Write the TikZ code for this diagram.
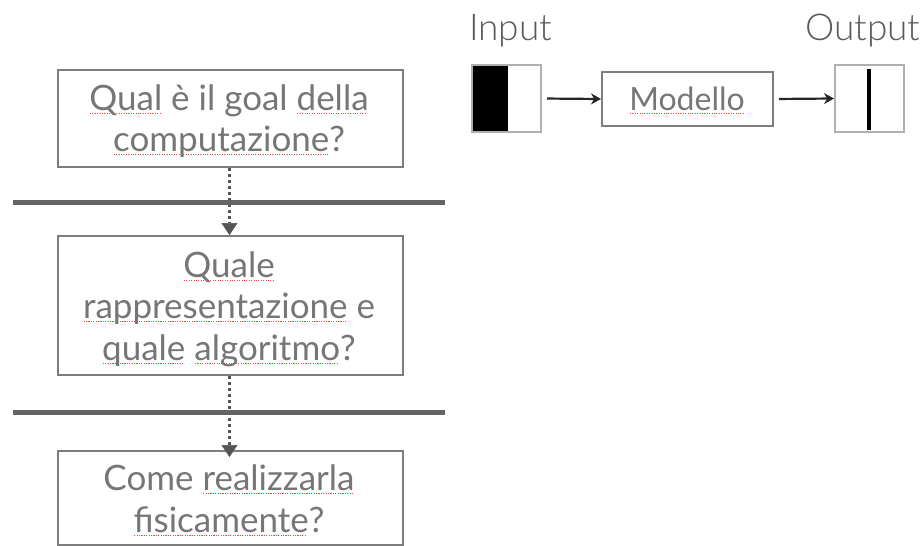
\documentclass[tikz,border=0pt]{standalone}
\usepackage{fontspec}
\setmainfont{Lato}
\newfontfamily\thinfont{Lato Light}
\usetikzlibrary{arrows.meta}
\definecolor{txtgray}{RGB}{118,118,118}
\definecolor{boxgray}{RGB}{125,125,125}
\definecolor{lightbox}{RGB}{175,175,175}
\definecolor{sepgray}{RGB}{100,100,100}
\definecolor{arrgray}{RGB}{85,85,85}
\definecolor{squig}{RGB}{235,70,70}
\newcommand\sq[1]{\setbox0=\hbox{#1}\leavevmode\rlap{\raisebox{-4pt}{\color{squig}\hbox to\wd0{\leaders\hbox to 2.4pt{\hss\rule{1.1pt}{1.1pt}\hss}\hfill}}}\box0\relax}
\begin{document}
\begin{tikzpicture}[x=1pt,y=-1pt,
  qbox/.style={draw=boxgray,line width=2pt,minimum width=345pt,inner sep=0pt},
  qline/.style={anchor=base,inner sep=0pt,text=txtgray,font=\fontsize{35}{40}\selectfont},
  sepline/.style={draw=sepgray,line width=5pt},
  dotarrow/.style={draw=arrgray,line width=3pt,dash pattern=on 3pt off 3pt,-{Triangle[width=16pt,length=12pt,line width=0.5pt,fill=arrgray]}},
  imgbox/.style={draw=lightbox,line width=2pt,minimum width=69pt,minimum height=67pt,inner sep=0pt},
  blackarrow/.style={draw=black!85,line width=2.2pt,-{Stealth[width=11pt,length=10pt]}},
  lbl/.style={anchor=base west,inner sep=0pt,text=black!65,font=\thinfont\fontsize{37}{42}\selectfont}]
\useasboundingbox (0,0) rectangle (922,546);
% left column boxes
\node[qbox,minimum height=97pt] (q1) at (230.5,118.5) {};
\node[qbox,minimum height=139pt] (q2) at (230.5,305.5) {};
\node[qbox,minimum height=94pt] (q3) at (230.5,498) {};
% texts
\node[qline] (t1a) at (229,110) {\sq{Qual} è il goal \sq{della}};
\node[qline] (t1b) at (229,151) {\sq{computazione}?};
\node[qline] (t2a) at (229,277) {\sq{Quale}};
\node[qline] (t2b) at (229,318) {\sq{rappresentazione} e};
\node[qline] (t2c) at (229,360) {\sq{quale} \sq{algoritmo}?};
\node[qline] (t3a) at (229,490) {Come \sq{realizzarla}};
\node[qline] (t3b) at (229,532) {\sq{fisicamente}?};
% separators
\coordinate (s1l) at (13,202); \coordinate (s1r) at (445,202);
\coordinate (s2l) at (13,412); \coordinate (s2r) at (445,412);
% dotted arrows
\draw[dotarrow] ([xshift=-1pt]q1.south) -- ([xshift=-1pt]q2.north);
\draw[dotarrow] ([xshift=-1pt]q2.south) -- ([xshift=-1pt,yshift=-7pt]q3.north);
\draw[sepline] (s1l) -- (s1r);
\draw[sepline] (s2l) -- (s2r);
% right part
\node[lbl] (inlbl) at (469,41) {Input};
\node[lbl] (outlbl) at (805,41) {Output};
\node[imgbox] (in) at (506.5,98.5) {};
\fill[black] (in.north west) rectangle ([xshift=37pt]in.south west);
\node[imgbox] (in2) at (506.5,98.5) {};
\node[draw=boxgray,line width=2pt,minimum width=171pt,minimum height=54pt,inner sep=0pt] (mod) at (687.5,99) {};
\node[qline,font=\fontsize{32}{36}\selectfont] (modt) at (687,110) {\sq{Modello}};
\node[imgbox] (out) at (869.5,98.5) {};
\coordinate (bartop) at (869,69); \coordinate (barbot) at (869,130);
\draw[black,line width=4pt] (bartop) -- (barbot);
\draw[blackarrow,shorten <=5pt] (in.east) -- (mod.west);
\draw[blackarrow,shorten <=5pt] (mod.east) -- (out.west);
\end{tikzpicture}
\end{document}
